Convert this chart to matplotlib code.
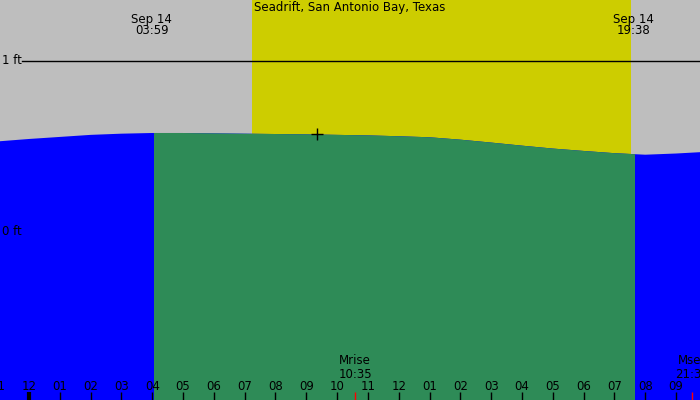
import numpy as np
import matplotlib
matplotlib.use('Agg')
import matplotlib.pyplot as plt
from matplotlib.patches import Rectangle
import matplotlib.transforms as mtransforms

# tide heights (ft) read hourly, hours since midnight Sep 14
hours = [-1, 0, 1, 2, 3, 4, 5, 6, 7, 8, 9, 10, 11, 12,
         13, 14, 15, 16, 17, 18, 19, 20, 21, 22]
heights = [0.530, 0.544, 0.556, 0.568, 0.575, 0.579, 0.579, 0.577, 0.575,
           0.573, 0.571, 0.568, 0.565, 0.560, 0.554, 0.540, 0.523, 0.505,
           0.488, 0.474, 0.461, 0.452, 0.459, 0.469]

title = 'Seadrift, San Antonio Bay, Texas'
sun_rise, sun_set = 7.24, 19.54          # yellow band
tide_span = (4.06, 19.67)                # green band
tide_times = [3.983, 19.633]
tide_labels = ['Sep 14\n03:59', 'Sep 14\n19:38']
moon_times = [10.583, 21.52]
moon_labels = ['Mrise\n10:35', 'Mset\n21:31']
now_hour, now_height = 9.35, 0.573
tick_hours = list(range(-1, 22))

GRAY = '#bebebe'
YELLOW = '#cdcd00'
BLUE = '#0000ff'
GREEN = '#2e8b57'
FS = 8.5

W, H = 700, 400
px = 30.81   # pixels per hour
x0 = 29      # pixel of midnight
ppf = 171    # pixels per foot
y0 = 232     # pixel of 0 ft

fig = plt.figure(figsize=(7, 4), dpi=100)
ax = fig.add_axes([0, 0, 1, 1])
ax.set_xlim(-x0 / px, (W - x0) / px)
ax.set_ylim(-(H - y0) / ppf, y0 / ppf)
ax.set_facecolor(GRAY)
ax.axis('off')
fig.patch.set_facecolor(GRAY)

ax.axvspan(sun_rise, sun_set, color=YELLOW, lw=0, zorder=1)
ax.axhline(1, xmin=22 / W, xmax=1, color='black', lw=1, zorder=2)

ymin = ax.get_ylim()[0]
ax.fill_between(hours, ymin, heights, color=BLUE, lw=0, zorder=3)
g = ax.fill_between(hours, ymin, heights, color=GREEN, lw=0, zorder=4)
clip = Rectangle((tide_span[0], ymin), tide_span[1] - tide_span[0], 5,
                 transform=ax.transData)
g.set_clip_path(clip)

ax.plot([now_hour], [now_height], marker='+', ms=9, mew=1, color='black', zorder=6)

def fy(p):
    return 1 - p / H

trans = mtransforms.blended_transform_factory(ax.transData, ax.transAxes)

ax.text(0.5, fy(8), title, transform=ax.transAxes, ha='center', va='center',
        fontsize=FS, zorder=7)
ax.text(2 / W, fy(61), '1 ft', transform=ax.transAxes, ha='left', va='center',
        fontsize=FS, zorder=7)
ax.text(2 / W, fy(232), '0 ft', transform=ax.transAxes, ha='left', va='center',
        fontsize=FS, zorder=7)

for t, lab in zip(tide_times, tide_labels):
    a, b = lab.split('\n')
    ax.text(t, fy(19), a, transform=trans, ha='center', va='center', fontsize=FS, zorder=7)
    ax.text(t, fy(31), b, transform=trans, ha='center', va='center', fontsize=FS, zorder=7)

for t, lab in zip(moon_times, moon_labels):
    a, b = lab.split('\n')
    ax.text(t, fy(361), a, transform=trans, ha='center', va='center', fontsize=FS, zorder=7)
    ax.text(t, fy(374), b, transform=trans, ha='center', va='center', fontsize=FS, zorder=7)
    ax.vlines(t, 0, 8 / H, transform=trans, color='red', lw=1, zorder=7)

for h in tick_hours:
    lab = '%02d' % ((h % 12) or 12)
    ax.text(h, fy(386), lab, transform=trans, ha='center', va='center', fontsize=FS, zorder=7)
    ax.vlines(h, 0, 8 / H, transform=trans, color='black',
              lw=3 if h % 24 == 0 else 1, zorder=7)

fig.savefig('out.png', dpi=100, facecolor=GRAY)
